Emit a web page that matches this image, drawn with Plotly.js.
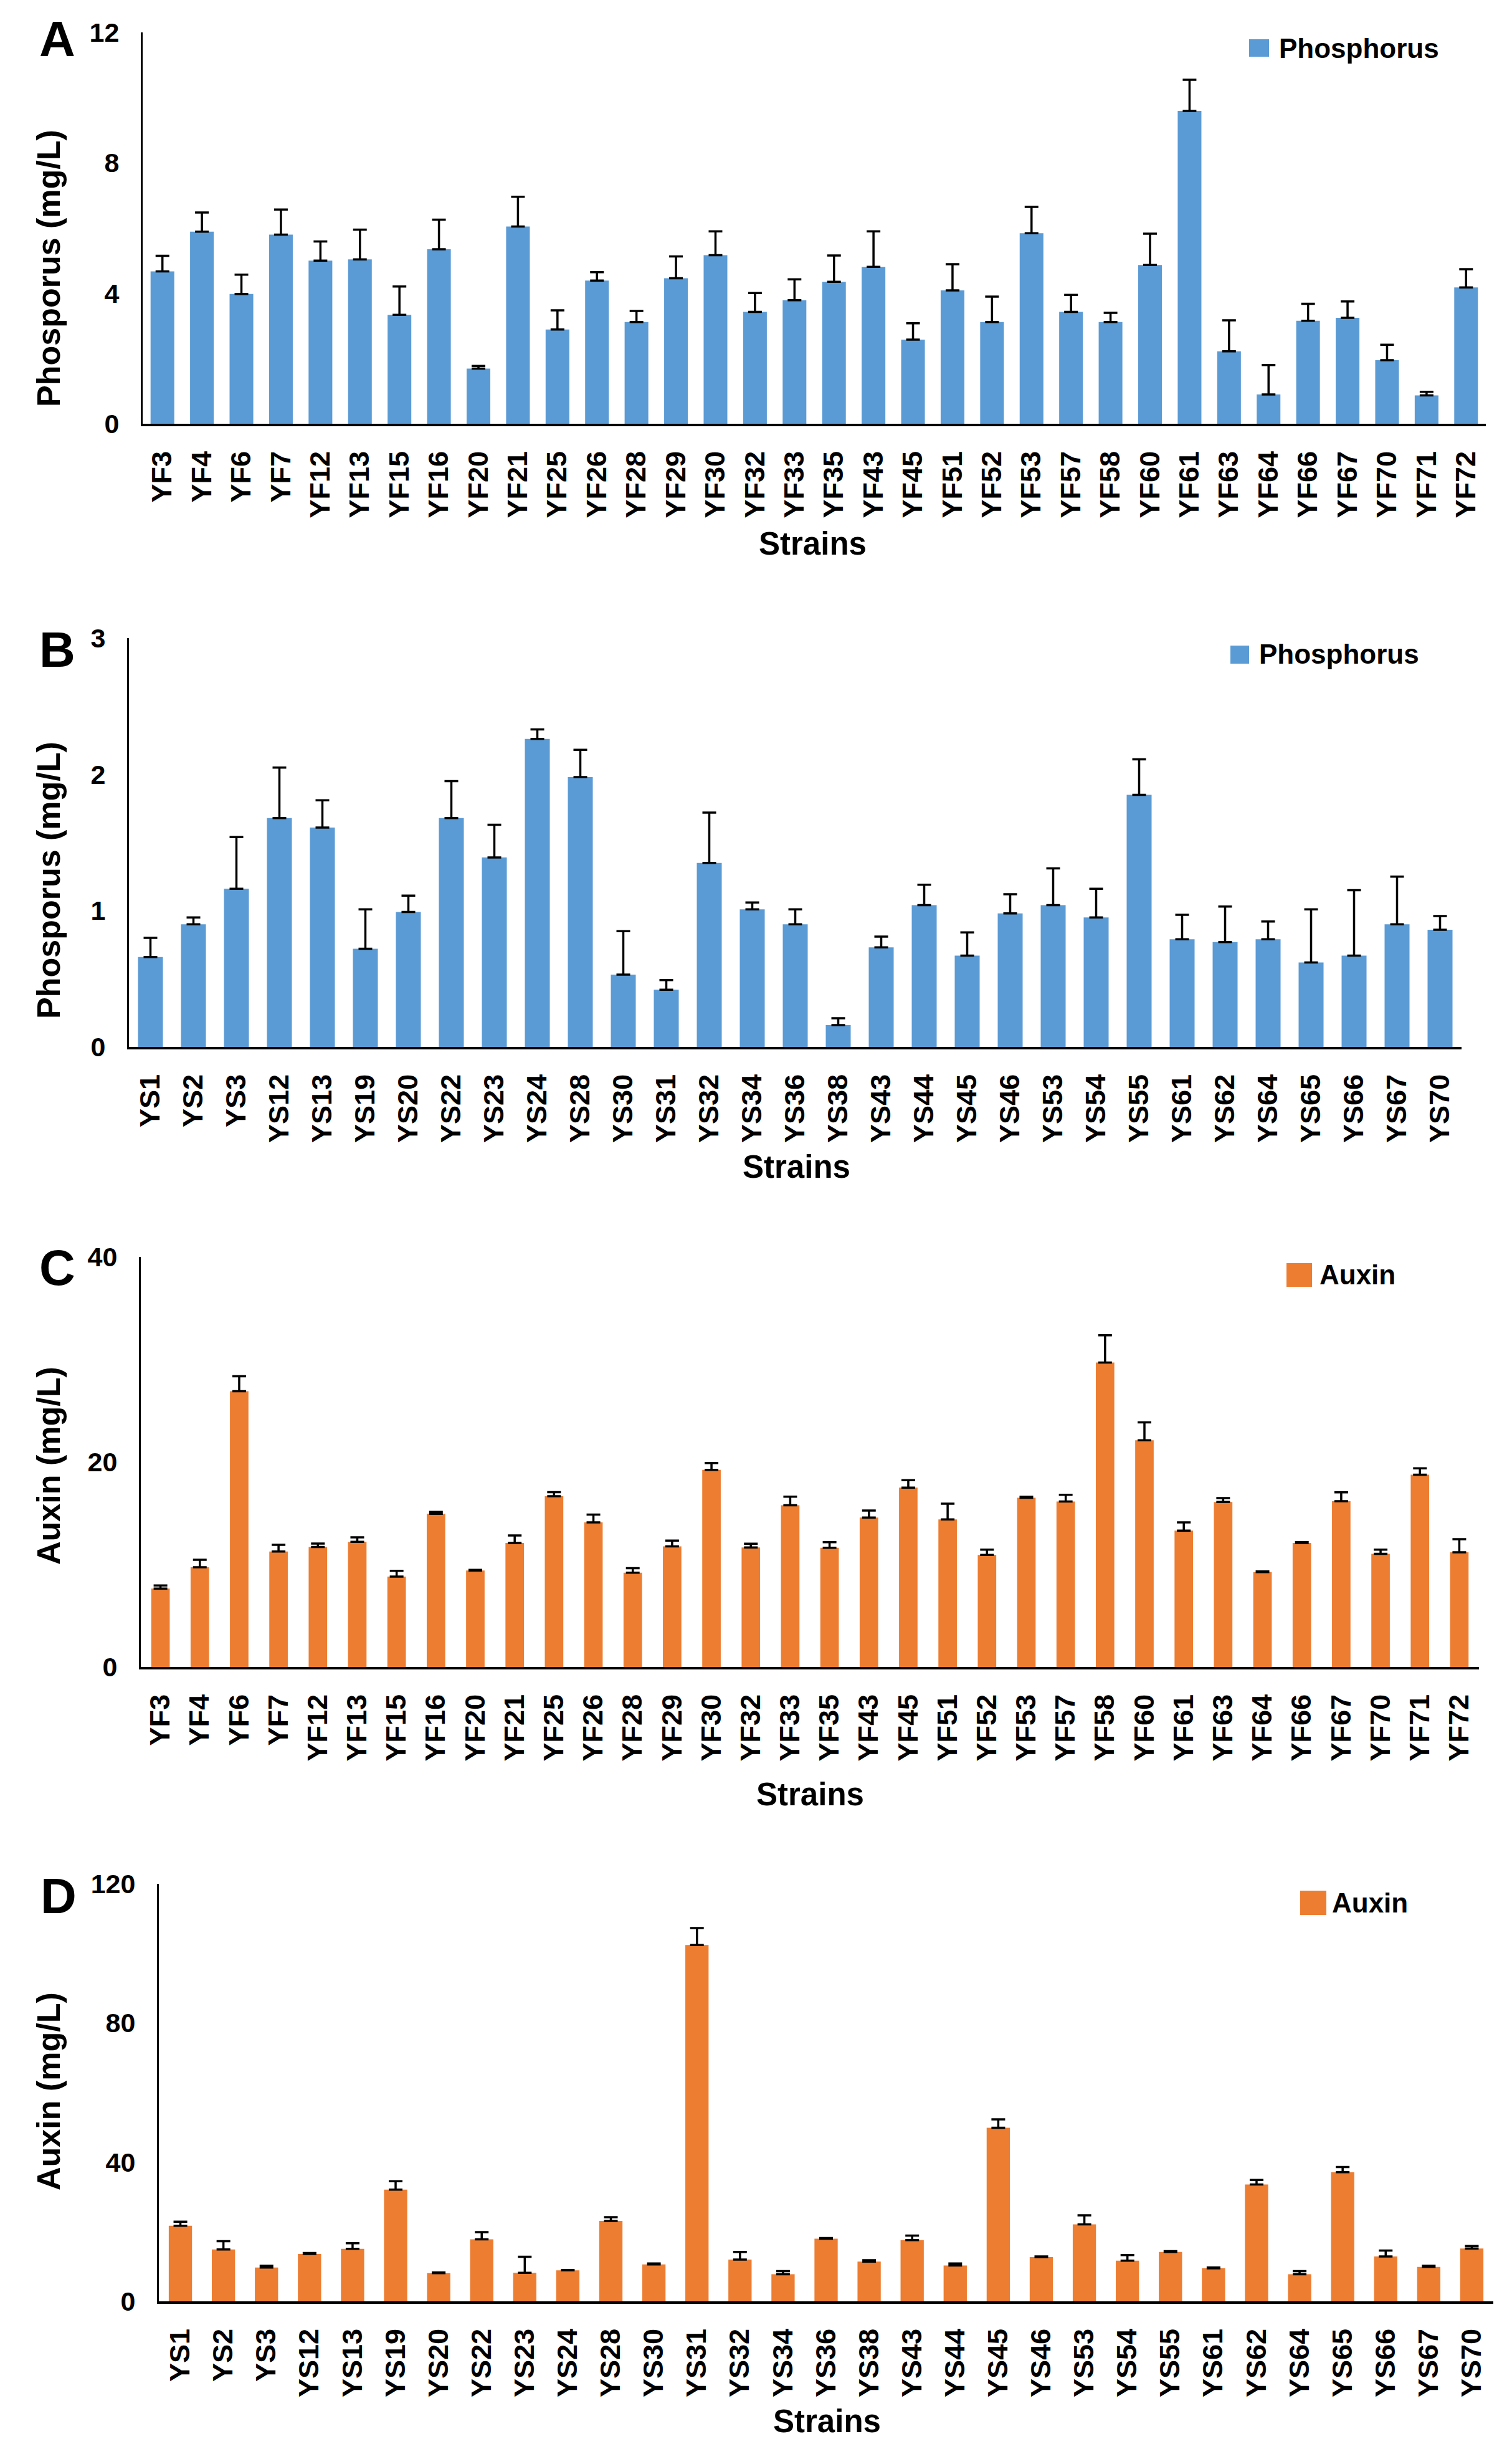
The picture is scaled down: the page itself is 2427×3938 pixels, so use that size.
<!DOCTYPE html>
<html>
<head>
<meta charset="utf-8">
<script src="https://cdn.plot.ly/plotly-3.0.1.min.js"></script>
<style>html,body{margin:0;padding:0;background:#fff;}#chart{width:2427px;height:3938px;}</style>
</head>
<body>
<div id="chart"></div>
<script>
// ---------- DATA ----------
const strainsYF = ['YF3','YF4','YF6','YF7','YF12','YF13','YF15','YF16','YF20','YF21','YF25','YF26','YF28','YF29','YF30','YF32','YF33','YF35','YF43','YF45','YF51','YF52','YF53','YF57','YF58','YF60','YF61','YF63','YF64','YF66','YF67','YF70','YF71','YF72'];
const strainsYS = ['YS1','YS2','YS3','YS12','YS13','YS19','YS20','YS22','YS23','YS24','YS28','YS30','YS31','YS32','YS34','YS36','YS38','YS43','YS44','YS45','YS46','YS53','YS54','YS55','YS61','YS62','YS64','YS65','YS66','YS67','YS70'];

const phosphorusYF = [4.67,5.89,3.98,5.80,5.00,5.04,3.34,5.35,1.69,6.05,2.89,4.39,3.12,4.46,5.17,3.43,3.79,4.35,4.81,2.58,4.09,3.12,5.84,3.43,3.12,4.87,9.59,2.22,0.90,3.16,3.25,1.95,0.87,4.18];
const phosphorusYFErr = [0.48,0.59,0.59,0.77,0.59,0.91,0.87,0.91,0.08,0.91,0.59,0.26,0.34,0.67,0.73,0.58,0.64,0.81,1.09,0.50,0.80,0.78,0.81,0.52,0.28,0.96,0.96,0.95,0.90,0.52,0.50,0.47,0.11,0.56];

const phosphorusYS = [0.66,0.90,1.16,1.68,1.61,0.72,0.99,1.68,1.39,2.26,1.98,0.53,0.42,1.35,1.01,0.90,0.16,0.73,1.04,0.67,0.98,1.04,0.95,1.85,0.79,0.77,0.79,0.62,0.67,0.90,0.86];
const phosphorusYSErr = [0.14,0.05,0.38,0.37,0.20,0.29,0.12,0.27,0.24,0.07,0.20,0.32,0.07,0.37,0.05,0.11,0.05,0.08,0.15,0.17,0.14,0.27,0.21,0.26,0.18,0.26,0.13,0.39,0.48,0.35,0.10];

const auxinYF = [7.65,9.73,26.9,11.26,11.7,12.2,8.82,14.94,9.4,12.1,16.65,14.1,9.2,11.77,19.23,11.66,15.77,11.62,14.57,17.49,14.39,10.93,16.5,16.14,29.69,22.11,13.3,16.1,9.25,12.1,16.17,11.04,18.76,11.18];
const auxinYFErr = [0.3,0.73,1.46,0.66,0.33,0.44,0.55,0.18,0.07,0.73,0.40,0.77,0.44,0.55,0.66,0.36,0.84,0.55,0.69,0.73,1.53,0.51,0.1,0.66,2.66,1.75,0.80,0.37,0.07,0.07,0.87,0.4,0.62,1.28];

const auxinYS = [21.7,14.9,9.7,13.6,15.1,32.1,8.1,17.8,8.2,8.9,23.1,10.6,102.4,12.0,7.8,18.0,11.4,17.6,10.3,49.9,12.7,22.1,11.7,14.2,9.5,33.6,7.8,37.1,12.9,9.9,15.2];
const auxinYSErr = [1.2,2.4,0.5,0.3,1.6,2.4,0.2,2.1,4.6,0.1,1.1,0.3,4.9,2.2,0.9,0.2,0.4,1.3,0.6,2.4,0.2,2.6,1.6,0.2,0.2,1.3,0.9,1.5,1.7,0.3,0.7];

const tickValsA = [0,4,8,12];
const tickValsB = [0,1,2,3];
const tickValsC = [0,20,40];
const tickValsD = [0,40,80,120];

// ---------- LAYOUT / STYLE ----------
const W = 2427, H = 3938;
const fx = x => x / W;
const fy = y => 1 - y / H;
const FONT = 'Liberation Sans, Arial, Helvetica, sans-serif';
const BLUE = '#5B9BD5';
const ORANGE = '#ED7D31';

const panels = [
  {cats: strainsYF, vals: phosphorusYF, errs: phosphorusYFErr, name: 'Phosphorus', color: BLUE,
   box: [229, 2385, 52, 680], range: [0,12], ticks: tickValsA, gap: 0.40,
   letter: 'A', letterPos: [92, 62], ytitle: 'Phosporus (mg/L)', ytitleY: 431, strainsPos: [1304, 873],
   legSq: [2005, 2037, 63, 91], legText: [2051, 78]},
  {cats: strainsYS, vals: phosphorusYS, errs: phosphorusYSErr, name: 'Phosphorus', color: BLUE,
   box: [207, 2346, 1024, 1680], range: [0,3], ticks: tickValsB, gap: 0.42,
   letter: 'B', letterPos: [92, 1042], ytitle: 'Phosporus (mg/L)', ytitleY: 1413, strainsPos: [1278, 1872],
   legSq: [1975, 2005, 1036, 1065], legText: [2019, 1050]},
  {cats: strainsYF, vals: auxinYF, errs: auxinYFErr, name: 'Auxin', color: ORANGE,
   box: [226, 2374, 2017, 2675], range: [0,40], ticks: tickValsC, gap: 0.53,
   letter: 'C', letterPos: [92, 2034], ytitle: 'Auxin (mg/L)', ytitleY: 2352, strainsPos: [1300, 2879],
   legSq: [2065, 2106, 2027, 2065], legText: [2116, 2046]},
  {cats: strainsYS, vals: auxinYS, errs: auxinYSErr, name: 'Auxin', color: ORANGE,
   box: [255, 2397, 3023, 3693], range: [0,120], ticks: tickValsD, gap: 0.46,
   letter: 'D', letterPos: [94, 3042], ytitle: 'Auxin (mg/L)', ytitleY: 3356, strainsPos: [1327, 3885],
   legSq: [2087, 2129, 3034, 3073], legText: [2136, 3053]}
];

const data = [];
const layout = {
  width: W, height: H,
  margin: {l: 0, r: 0, t: 0, b: 0},
  paper_bgcolor: '#fff', plot_bgcolor: '#fff',
  showlegend: false,
  font: {family: FONT, color: '#000'},
  shapes: [], annotations: []
};

panels.forEach((p, i) => {
  const n = i === 0 ? '' : String(i + 1);
  const xa = 'x' + n, ya = 'y' + n;
  data.push({
    type: 'bar', x: p.cats, y: p.vals, name: p.name,
    xaxis: xa, yaxis: ya, width: 1 - p.gap,
    marker: {color: p.color, line: {width: 0}},
    error_y: {type: 'data', symmetric: false, array: p.errs, arrayminus: p.errs.map(() => 0),
              color: '#000', thickness: 3.5, width: 11}
  });
  layout['xaxis' + n] = {
    domain: [fx(p.box[0]), fx(p.box[1])], anchor: ya,
    type: 'category', showline: true, linecolor: '#000', linewidth: 4,
    showgrid: false, zeroline: false, ticks: '', tickangle: -90,
    ticklabelstandoff: 22,
    tickfont: {family: FONT, size: 45, weight: 'bold', color: '#000'},
    fixedrange: true
  };
  layout['yaxis' + n] = {
    domain: [fy(p.box[3]), fy(p.box[2])], anchor: xa,
    range: p.range, tickmode: 'array', tickvals: p.ticks,
    showline: true, linecolor: '#000', linewidth: 3,
    showgrid: false, zeroline: false, ticks: '',
    ticklabelstandoff: 26,
    tickfont: {family: FONT, size: 43, weight: 'bold', color: '#000'},
    fixedrange: true
  };

  // y-axis title
  layout.annotations.push({
    xref: 'paper', yref: 'paper', x: fx(78), y: fy(p.ytitleY),
    text: p.ytitle, textangle: -90, showarrow: false,
    xanchor: 'center', yanchor: 'middle',
    font: {family: FONT, size: 52, weight: 'bold', color: '#000'}
  });
  // x-axis title
  layout.annotations.push({
    xref: 'paper', yref: 'paper', x: fx(p.strainsPos[0]), y: fy(p.strainsPos[1]),
    text: 'Strains', showarrow: false, xanchor: 'center', yanchor: 'middle',
    font: {family: FONT, size: 51, weight: 'bold', color: '#000'}
  });
  // panel letter
  layout.annotations.push({
    xref: 'paper', yref: 'paper', x: fx(p.letterPos[0]), y: fy(p.letterPos[1]),
    text: p.letter, showarrow: false, xanchor: 'center', yanchor: 'middle',
    font: {family: FONT, size: 80, weight: 'bold', color: '#000'}
  });
  // legend swatch + label
  layout.shapes.push({
    type: 'rect', xref: 'paper', yref: 'paper',
    x0: fx(p.legSq[0]), x1: fx(p.legSq[1]), y0: fy(p.legSq[3]), y1: fy(p.legSq[2]),
    fillcolor: p.color, line: {width: 0}
  });
  layout.annotations.push({
    xref: 'paper', yref: 'paper', x: fx(p.legText[0]), y: fy(p.legText[1]),
    text: p.name, showarrow: false, xanchor: 'left', yanchor: 'middle',
    font: {family: FONT, size: 44, weight: 'bold', color: '#000'}
  });
});

Plotly.newPlot('chart', data, layout, {staticPlot: true, displayModeBar: false});
</script>
</body>
</html>
